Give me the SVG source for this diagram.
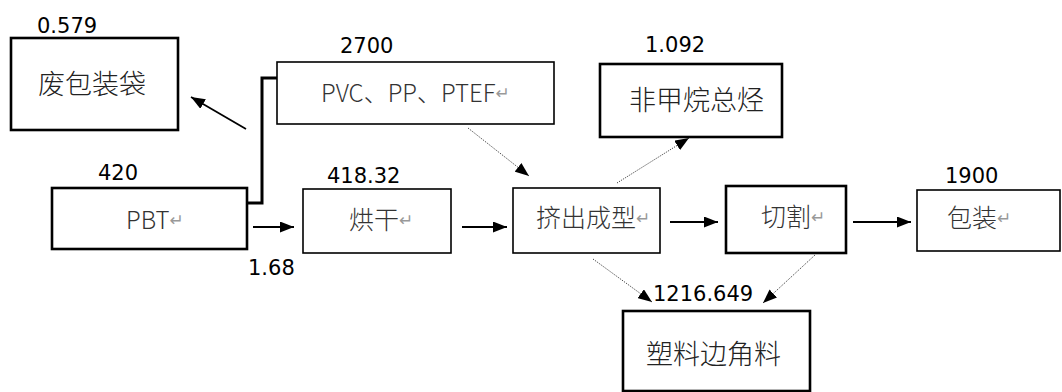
<svg xmlns="http://www.w3.org/2000/svg" width="1062" height="392" viewBox="0 0 1062 392">
<style>
.box{fill:#fff;stroke:#000;stroke-width:1.6}
.thick{stroke-width:2.6}
.num{font-family:"DejaVu Sans",sans-serif;font-size:21px;fill:#000}
.lab{font-family:"Noto Sans CJK SC","Noto Sans",sans-serif;font-size:25px;font-weight:300;fill:#333}
.big{font-family:"Noto Sans CJK SC",sans-serif;font-size:27px;font-weight:300;fill:#222}
.lat{font-family:"Noto Sans CJK SC","Noto Sans",sans-serif;font-size:24px;font-weight:300;fill:#333}
.ret{font-family:"DejaVu Sans",sans-serif;font-size:17px;font-weight:normal;fill:#999}
.solid{stroke:#000;stroke-width:1.8;fill:none}
.dot{stroke:#444;stroke-width:1;stroke-dasharray:1.2 1.2;fill:none}
</style>
<defs>
<marker id="ah" viewBox="0 0 14 11" refX="14" refY="5.5" markerWidth="14" markerHeight="11" markerUnits="userSpaceOnUse" orient="auto">
<path d="M0,0 L14,5.5 L0,11 Z" fill="#000"/>
</marker>
</defs>
<rect width="1062" height="392" fill="#fff"/>

<g id="connectors">
<polyline points="247,203 262,203 262,78 277,78" fill="none" stroke="#000" stroke-width="3"/>
<line class="solid" x1="246" y1="129" x2="191" y2="97" marker-end="url(#ah)"/>
<line class="solid" x1="253" y1="227" x2="294" y2="227" marker-end="url(#ah)"/>
<line class="solid" x1="462" y1="227" x2="507" y2="227" marker-end="url(#ah)"/>
<line class="solid" x1="670" y1="222" x2="718" y2="222" marker-end="url(#ah)"/>
<line class="solid" x1="853" y1="222" x2="911" y2="222" marker-end="url(#ah)"/>
<line class="dot" x1="468" y1="128" x2="529" y2="176" marker-end="url(#ah)"/>
<line class="dot" x1="617" y1="183" x2="689" y2="138" marker-end="url(#ah)"/>
<line class="dot" x1="593" y1="259" x2="652" y2="302" marker-end="url(#ah)"/>
<line class="dot" x1="815" y1="255" x2="763" y2="303" marker-end="url(#ah)"/>
</g>

<g id="waste-bags">
<rect class="box thick" x="11" y="38" width="167" height="92"/>
<text class="big" x="38" y="94">废包装袋</text>
<text class="num" x="37" y="33">0.579</text>
</g>

<g id="pvc">
<rect class="box" x="277" y="62" width="277" height="62"/>
<text class="lat" x="321" y="102">PVC、PP、PTEF<tspan class="ret" dy="-3">↵</tspan></text>
<text class="num" x="340" y="53">2700</text>
</g>

<g id="nmhc">
<rect class="box thick" x="600" y="64" width="182" height="73"/>
<text class="big" x="629" y="110">非甲烷总烃</text>
<text class="num" x="645" y="52">1.092</text>
</g>

<g id="pbt">
<rect class="box thick" x="52" y="188" width="195" height="61"/>
<text class="lat" x="126" y="229">PBT<tspan class="ret" dy="-3">↵</tspan></text>
<text class="num" x="98" y="180">420</text>
<text class="num" x="248" y="275">1.68</text>
</g>

<g id="dry">
<rect class="box" x="303" y="189" width="148" height="64"/>
<text class="lab" x="349" y="229">烘干<tspan class="ret" dy="-3">↵</tspan></text>
<text class="num" x="327" y="183">418.32</text>
</g>

<g id="extrude">
<rect class="box" x="513" y="188" width="147" height="65"/>
<text class="lab" x="536" y="227">挤出成型<tspan class="ret" dy="-3">↵</tspan></text>
</g>

<g id="cut">
<rect class="box thick" x="726" y="186" width="120" height="67"/>
<text class="lab" x="761" y="226">切割<tspan class="ret" dy="-3">↵</tspan></text>
</g>

<g id="pack">
<rect class="box" x="917" y="190" width="143" height="61"/>
<text class="lab" x="947" y="227">包装<tspan class="ret" dy="-3">↵</tspan></text>
<text class="num" x="945" y="183">1900</text>
</g>

<g id="scrap">
<rect class="box thick" x="623" y="311" width="187" height="80"/>
<text class="big" x="646" y="364">塑料边角料</text>
<text class="num" x="653" y="301">1216.649</text>
</g>
</svg>
